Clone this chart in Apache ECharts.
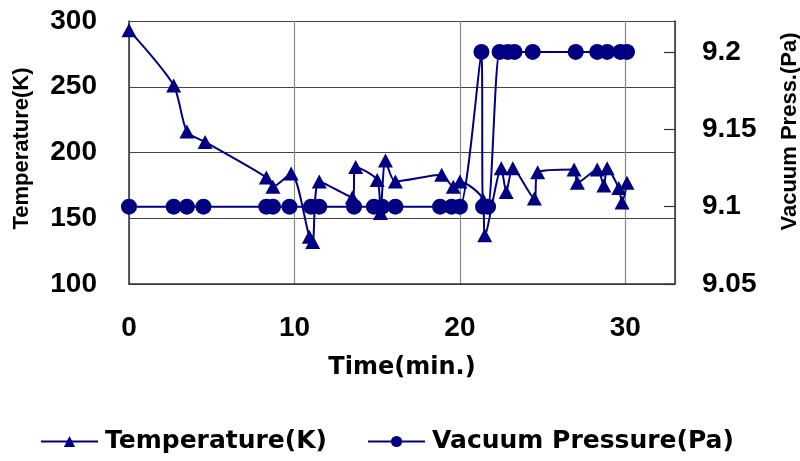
<!DOCTYPE html>
<html>
<head>
<meta charset="utf-8">
<script src="https://cdn.jsdelivr.net/npm/echarts@6/dist/echarts.min.js"></script>
<style>
html,body{margin:0;padding:0;background:#fff;}
#chart{width:800px;height:461px;}
</style>
</head>
<body>
<div id="chart"></div>
<script>
// Temperature series (time in min, temperature in K)
var tempTime = [0, 2.7, 3.5, 4.6, 8.3, 8.7, 9.8, 10.9, 11.1, 11.5, 13.5, 13.7, 15.0, 15.2, 15.5, 16.1, 18.9, 19.6, 20.0, 21.4, 21.5, 22.5, 22.8, 23.2, 24.5, 24.7, 26.9, 27.1, 28.3, 28.7, 28.9, 29.6, 29.8, 30.1];
var tempK = [293, 251, 216, 208, 181, 174, 184, 136, 132, 178, 166, 189, 179, 154, 194, 178, 183, 174, 178, 164, 137, 188, 170, 188, 165, 185, 187, 177, 187, 175, 188, 173, 162, 177];

// Vacuum pressure series (time in min, pressure in Pa)
var pressTime = [0, 2.7, 3.5, 4.5, 8.3, 8.7, 9.7, 11.0, 11.5, 13.6, 14.8, 15.3, 16.1, 18.8, 19.5, 20.0, 21.3, 21.4, 21.7, 22.4, 22.9, 23.3, 24.4, 27.0, 28.3, 28.9, 29.7, 30.1];
var pressPa = [9.1, 9.1, 9.1, 9.1, 9.1, 9.1, 9.1, 9.1, 9.1, 9.1, 9.1, 9.1, 9.1, 9.1, 9.1, 9.1, 9.2, 9.1, 9.1, 9.2, 9.2, 9.2, 9.2, 9.2, 9.2, 9.2, 9.2, 9.2];

var xTicks = [0, 10, 20, 30];
var tempTicks = [100, 150, 200, 250, 300];
var pressTicks = [9.05, 9.1, 9.15, 9.2];

var seriesNames = ['Temperature(K)', 'Vacuum Pressure(Pa)'];
var axisNames = { x: 'Time(min.)', left: 'Temperature(K)', right: 'Vacuum Press.(Pa)' };

function pairs(xs, ys) { return xs.map(function (x, i) { return [x, ys[i]]; }); }

var navy = '#000080';
var labelFont = 'Liberation Sans, Arial, sans-serif';

var chart = echarts.init(document.getElementById('chart'), null, { renderer: 'canvas' });
chart.setOption({
  animation: false,
  backgroundColor: '#ffffff',
  grid: { left: 129, right: 125, top: 21, bottom: 177, containLabel: false, outerBoundsMode: 'none' },
  legend: {
    data: seriesNames,
    left: 35,
    top: 424,
    itemWidth: 57,
    itemHeight: 14,
    itemGap: 40,
    textStyle: { fontFamily: 'DejaVu Sans, sans-serif', fontWeight: 'bold', fontSize: 25, color: '#000', padding: [0, 0, 0, 2] }
  },
  xAxis: {
    type: 'value',
    min: 0, max: 33, interval: 10,
    name: axisNames.x,
    nameLocation: 'middle',
    nameGap: 72,
    nameTextStyle: { fontFamily: 'DejaVu Sans, sans-serif', fontWeight: 'bold', fontSize: 24, color: '#000' },
    axisLine: { show: true, onZero: false, lineStyle: { color: '#333', width: 1.5 } },
    axisTick: { show: false },
    axisLabel: {
      margin: 30, fontFamily: labelFont, fontWeight: 'bold', fontSize: 28, color: '#000', showMaxLabel: false,
      formatter: function (v) { return xTicks.indexOf(v) >= 0 ? String(v) : ''; }
    },
    splitLine: { show: true, lineStyle: { color: '#8a8a8a', width: 1.2 } }
  },
  yAxis: [
    {
      type: 'value',
      min: 100, max: 300, interval: 50,
      position: 'left',
      name: axisNames.left,
      nameLocation: 'middle',
      nameRotate: 90,
      nameGap: 96,
      nameTextStyle: { fontFamily: labelFont, fontWeight: 'bold', fontSize: 22, color: '#000', padding: [0, 0, 0, 8] },
      axisLine: { show: true, lineStyle: { color: '#333', width: 1.5 } },
      axisTick: { show: false },
      axisLabel: {
        margin: 32, fontFamily: labelFont, fontWeight: 'bold', fontSize: 28, color: '#000',
        formatter: function (v) { return tempTicks.indexOf(v) >= 0 ? String(v) : ''; }
      },
      splitLine: { show: true, lineStyle: { color: '#444', width: 1.2 } }
    },
    {
      type: 'value',
      min: 9.05, max: 9.22, interval: 0.05,
      position: 'right',
      name: axisNames.right,
      nameLocation: 'middle',
      nameRotate: 90,
      nameGap: 104,
      nameTextStyle: { fontFamily: labelFont, fontWeight: 'bold', fontSize: 22, color: '#000', padding: [0, 0, 0, 42] },
      axisLine: { show: true, lineStyle: { color: '#333', width: 1.5 } },
      axisTick: { show: true, inside: true, length: 11, lineStyle: { color: '#333', width: 1.2 } },
      axisLabel: {
        margin: 27, fontFamily: labelFont, fontWeight: 'bold', fontSize: 28, color: '#000', showMaxLabel: false,
        formatter: function (v) {
          var r = Math.round(v * 100) / 100;
          for (var i = 0; i < pressTicks.length; i++) { if (Math.abs(pressTicks[i] - r) < 1e-6) return String(r); }
          return '';
        }
      },
      splitLine: { show: false }
    }
  ],
  series: [
    {
      name: seriesNames[0],
      type: 'line',
      yAxisIndex: 0,
      data: pairs(tempTime, tempK),
      smooth: 0.25,
      symbol: 'triangle',
      symbolSize: [15, 14],
      showAllSymbol: true,
      itemStyle: { color: navy },
      lineStyle: { color: navy, width: 2 },
      z: 2
    },
    {
      name: seriesNames[1],
      type: 'line',
      yAxisIndex: 1,
      data: pairs(pressTime, pressPa),
      smooth: 0.25,
      symbol: 'circle',
      symbolSize: 16,
      showAllSymbol: true,
      itemStyle: { color: navy },
      lineStyle: { color: navy, width: 2 },
      z: 3
    }
  ]
});
</script>
</body>
</html>
